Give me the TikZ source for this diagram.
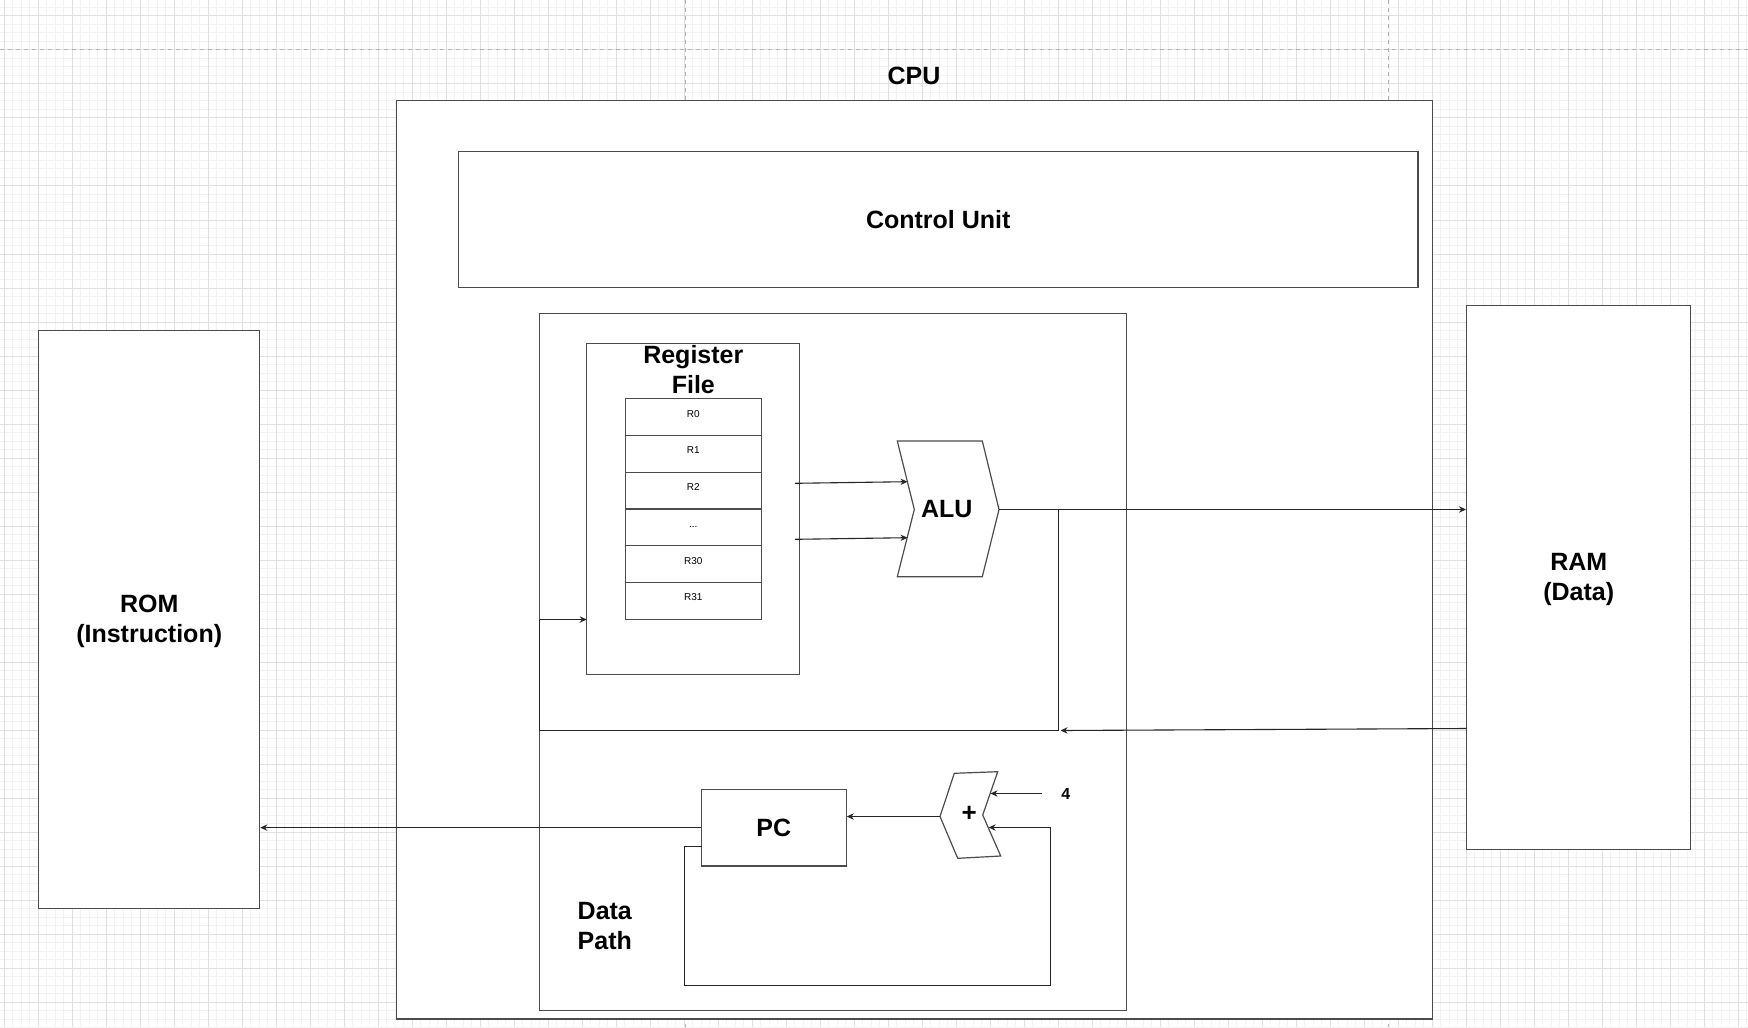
\documentclass[tikz,border=0pt]{standalone}
\usepackage{fontspec}
\setmainfont{Liberation Sans}
\usetikzlibrary{arrows.meta,fit}

\begin{document}
\begin{tikzpicture}[x=0.5pt,y=-0.5pt,
  gridminor/.style={draw=black!5, line width=0.5pt},
  gridmajor/.style={draw=black!12, line width=0.5pt},
  pagebreak/.style={draw=black!30, line width=0.5pt, dash pattern=on 2pt off 2pt},
  box/.style={draw=black!70, fill=white, line width=0.6pt, inner sep=0pt},
  conn/.style={draw=black!85, line width=0.55pt},
  arr/.style={conn, -{Stealth[length=3.5pt,width=3.2pt]}},
  lbl/.style={font=\bfseries\fontsize{12.5}{15}\selectfont, align=center, inner sep=0pt},
  reglbl/.style={font=\fontsize{5}{6}\selectfont, inner sep=0pt},
]
\useasboundingbox (0,0) rectangle (1748,1027);
\fill[white] (0,0) rectangle (1748,1027);
% grid
\foreach \k in {0,...,205} \draw[gridminor] ({4.3+8.5*\k},0) -- ({4.3+8.5*\k},1027);
\foreach \k in {0,...,120} \draw[gridminor] (0,{7.5+8.5*\k}) -- (1748,{7.5+8.5*\k});
\foreach \k in {0,...,51} \draw[gridmajor] ({4.3+34*\k},0) -- ({4.3+34*\k},1027);
\foreach \k in {0,...,29} \draw[gridmajor] (0,{16+34*\k}) -- (1748,{16+34*\k});
\draw[pagebreak] (0,50) -- (1748,50);
\draw[pagebreak] (685,0) -- (685,1027);
\draw[pagebreak] (1388,0) -- (1388,1027);

% external memories
\node[box, fit={(38.7,330.2) (259.7,908.2)}] (rom) {};
\node[lbl] (romlbl) at (149.2,621.5) {ROM\\(Instruction)};
\node[box, fit={(1466.6,305.2) (1690.8,849.4)}] (ram) {};
\node[lbl] (ramlbl) at (1578.7,579.5) {RAM\\(Data)};

% CPU
\node[box, fit={(396.5,100.5) (1432.5,1019)}] (cpu) {};
\node[lbl] (cpulbl) at (914,76) {CPU};
\node[box, fit={(458.5,151.7) (1418,287.6)}] (cu) {};
\node[lbl] (culbl) at (cu.center) {Control Unit};

% data path
\node[box, fit={(539.8,313.5) (1126.5,1010.5)}] (dp) {};
\node[lbl, anchor=west, align=left] (dplbl) at (577.3,926.2) {Data\\Path};

% register file
\node[box, fit={(586.7,343.3) (799.3,674.7)}] (rf) {};
\node[lbl] (rflbl) at (693.3,370) {Register\\File};
\node[box, reglbl, fit={(625.3,398.7) (761.3,435.5)}] (r0) {R0};
\node[box, reglbl, fit={(625.3,435.5) (761.3,472.3)}] (r1) {R1};
\node[box, reglbl, fit={(625.3,472.3) (761.3,509.0)}] (r2) {R2};
\node[box, reglbl, fit={(625.3,509.0) (761.3,545.8)}] (rd) {...};
\node[box, reglbl, fit={(625.3,545.8) (761.3,582.6)}] (r30) {R30};
\node[box, reglbl, fit={(625.3,582.6) (761.3,619.3)}] (r31) {R31};

% ALU
\draw[box] (897.3,441) -- (982.3,441) -- (999,509.5) -- (982.3,576.7) -- (897.3,576.7) -- (914.3,509.5) -- cycle;
\node[lbl] (alulbl) at (946.7,509.5) {ALU};
\coordinate (alutip) at (999,509.5);

% PC and adder
\node[box, fit={(701.5,789.3) (846.2,866)}] (pc) {};
\node[lbl] (pclbl) at (pc.center) {PC};
\draw[box] (940,816.5) -- (954.3,773.3) -- (997.7,771.7) -- (982.7,815) -- (1000.7,856) -- (957.7,858.3) -- cycle;
\node[font=\bfseries\fontsize{13}{15}\selectfont, inner sep=0pt] (plus) at (969.3,813.5) {+};
\node[font=\bfseries\fontsize{8}{10}\selectfont, inner sep=0pt] (four) at (1065.7,793.5) {4};

% connection points
\coordinate (rfo1) at (795,483.3);
\coordinate (aluin1) at (907.5,481.7);
\coordinate (rfo2) at (795,539.3);
\coordinate (aluin2) at (907.5,537.7);
\coordinate (jn) at (1058.5,509.5);
\coordinate (jb) at (1058.5,730.5);
\coordinate (lb) at (539.8,730.5);
\coordinate (lt) at (539.8,619.5);
\coordinate (rfin) at (586.7,619.5);
\coordinate (ramout) at (1466.6,728.5);
\coordinate (jbin) at (1060.5,730.5);
\coordinate (addtip) at (940,816.5);
\coordinate (fourin) at (1041.7,793.5);
\coordinate (addin1) at (990.5,793.5);
\coordinate (fb0) at (701.5,846.5);
\coordinate (fb1) at (684.5,985.5);
\coordinate (fb2) at (1050.5,985.5);
\coordinate (addin2) at (988.6,827.5);

% connectors
\draw[arr] (rfo1) -- (aluin1);
\draw[arr] (rfo2) -- (aluin2);
\draw[arr] (alutip) -- (alutip -| ram.west);
\draw[arr] (alutip) -- (jn) -- (jb) -- (lb) -- (lt) -- (rfin);
\draw[arr] (ramout) -- (jbin);
\draw[arr] (pc.west) -- (pc.west -| rom.east);
\draw[arr] (addtip) -- (addtip -| pc.east);
\draw[arr] (fourin) -- (addin1);
\draw[arr] (fb0) -| (fb1) -- (fb2) |- (addin2);
\end{tikzpicture}
\end{document}
